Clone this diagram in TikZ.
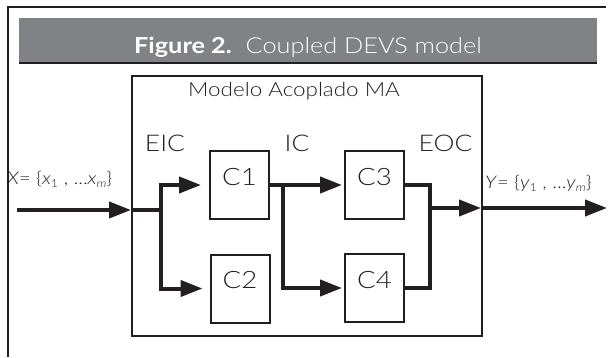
\documentclass[tikz,border=0pt]{standalone}
\usepackage{fontspec}
\setmainfont{Lato Light}[FakeStretch=1.15,BoldFont={Lato Bold},BoldFeatures={FakeStretch=1.15},ItalicFont={Lato Light Italic},ItalicFeatures={FakeStretch=1.15}]
\usetikzlibrary{arrows.meta}
\definecolor{ink}{HTML}{231F20}
\definecolor{hdr}{HTML}{808285}
\newcommand{\subtxt}[1]{\raisebox{-3.5pt}{\fontsize{11}{11}\selectfont #1}}
\begin{document}
\begin{tikzpicture}[x=1pt,y=-1pt,
  frame/.style={draw=ink,line width=2pt},
  comp/.style={draw=ink,line width=2pt,minimum width=59pt,minimum height=68pt,inner sep=0pt,
    font=\fontsize{24}{24}\selectfont,text=ink,text height=18pt,text depth=18pt},
  conn/.style={draw=ink,line width=4pt},
  arr/.style={-{Triangle[length=22pt,width=16pt]}},
  lbl/.style={text=ink,inner sep=0pt,anchor=base},
  port/.style={text=ink,inner sep=0pt,anchor=base west,font=\fontsize{17.5}{17.5}\selectfont}]
\useasboundingbox (0,0) rectangle (608,357);
% outer frame and header
\draw[frame] (8,357) -- (8,7) -- (606,7);
\fill[hdr] (19,18) rectangle (597,63);
\draw[ink,line width=2pt] (19,63) -- (597,63);
\node[lbl,text=white,font=\fontsize{22}{22}\selectfont] (title) at (308,53)
  {\textbf{Figure 2.}\ \ Coupled DEVS model};
% coupled model
\node[frame,minimum width=350pt,minimum height=260pt,inner sep=0pt] (MA) at (307,206) {};
\node[lbl,font=\fontsize{19.5}{19.5}\selectfont] (malbl) at (294,96) {Modelo Acoplado MA};
\node[comp] (C1) at (239.5,185) {C1};
\node[comp] (C2) at (240,288.5) {C2};
\node[comp] (C3) at (374.5,185) {C3};
\node[comp] (C4) at (374.5,288) {C4};
\node[lbl,font=\fontsize{23}{23}\selectfont] (eiclbl) at (165,151) {EIC};
\node[lbl,font=\fontsize{23}{23}\selectfont] (iclbl) at (297,151) {IC};
\node[lbl,font=\fontsize{23}{23}\selectfont] (eoclbl) at (445.5,151) {EOC};
\node[port] (xlbl) at (7,184) {\textit{X}= \{\textit{x}\subtxt{1} , ...\textit{x}\subtxt{\itshape m}\}};
\node[port] (ylbl) at (485,188) {\textit{Y}= \{\textit{y}\subtxt{1} , ...\textit{y}\subtxt{\itshape m}\}};
% connectors
\coordinate (xin) at (17,210);
\coordinate (inport) at (131,210);
\coordinate (eic) at (161,210);
\coordinate (ic) at (283,185);
\coordinate (eoc) at (430,208);
\coordinate (outport) at (481,208);
\coordinate (yout) at (607,208);
\draw[conn,arr] (xin) -- (inport);
\draw[conn] (inport) -- (eic);
\draw[conn,arr] (eic) |- ([xshift=-8pt]C1.west);
\draw[conn,arr] (eic) |- ([xshift=-7pt]C2.west);
\draw[conn,arr] (C1.east) -- ([xshift=-2pt]C3.west);
\draw[conn,arr] (ic) |- ([xshift=-2pt]C4.west);
\draw[conn] (C3.east) -| (eoc) |- (C4.east);
\draw[conn,arr] (eoc) -- (outport);
\draw[conn,arr] (outport) -- (yout);
\end{tikzpicture}
\end{document}
